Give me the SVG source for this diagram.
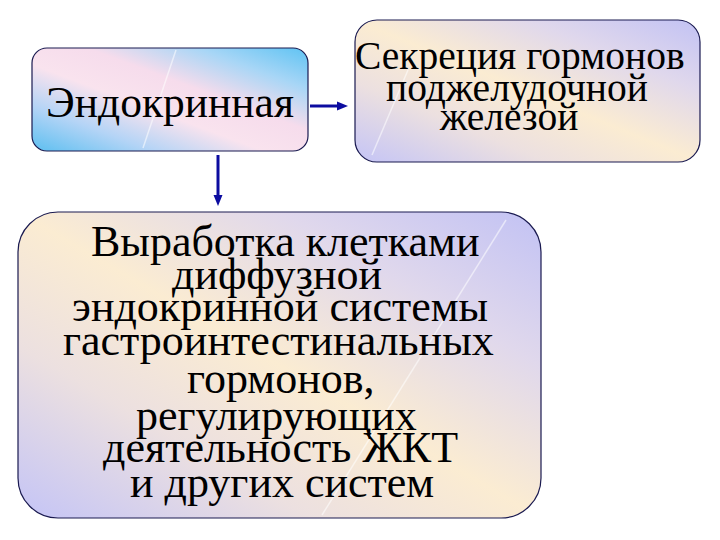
<svg xmlns="http://www.w3.org/2000/svg" width="720" height="540" viewBox="0 0 720 540">
  <defs>
    <linearGradient id="gBlue" x1="1" y1="0" x2="0" y2="1">
      <stop offset="0" stop-color="#5ec3f3"/>
      <stop offset="0.2" stop-color="#a8d6f6"/>
      <stop offset="0.4" stop-color="#f6dcec"/>
      <stop offset="0.58" stop-color="#f9e3ee"/>
      <stop offset="0.78" stop-color="#b4d4f6"/>
      <stop offset="1" stop-color="#5cbff0"/>
    </linearGradient>
    <linearGradient id="gCream" x1="1" y1="0" x2="0" y2="1">
      <stop offset="0" stop-color="#c2c2f4"/>
      <stop offset="0.25" stop-color="#e0d8ec"/>
      <stop offset="0.5" stop-color="#fbecd2"/>
      <stop offset="0.72" stop-color="#ece0e0"/>
      <stop offset="1" stop-color="#c4c4f6"/>
    </linearGradient>
    <marker id="head" markerUnits="userSpaceOnUse" markerWidth="11" markerHeight="10" refX="1" refY="5" orient="auto">
      <path d="M0,0.5 L11,5 L0,9.5 z" fill="#0c0ca0"/>
    </marker>
    <style>
      .box { stroke: #1a1a50; stroke-width: 1.2; }
      .streak { stroke: #ffffff; stroke-width: 1.5; stroke-opacity: 0.55; fill: none; }
      .conn { stroke: #0c0ca0; stroke-width: 3; fill: none; marker-end: url(#head); }
    </style>
  </defs>
  <rect x="0" y="0" width="720" height="540" fill="#ffffff"/>

  <g id="node-endocrine">
    <rect class="box" x="32" y="48" width="276" height="103" rx="15" ry="15" fill="url(#gBlue)"/>
    <line class="streak" x1="176" y1="50" x2="143" y2="148"/>
    <text x="46" y="117" font-family="Liberation Serif, Tinos, Times New Roman, serif" font-size="43.5" fill="#000000">Эндокринная</text>
  </g>

  <g id="node-secretion">
    <rect class="box" x="355" y="20" width="345" height="142" rx="22" ry="22" fill="url(#gCream)"/>
    <line class="streak" x1="408" y1="70" x2="372" y2="155"/>
    <text x="355" y="69" font-family="Liberation Serif, Tinos, Times New Roman, serif" font-size="39.5" fill="#000000">Секреция гормонов</text>
    <text x="386" y="101" font-family="Liberation Serif, Tinos, Times New Roman, serif" font-size="39.5" fill="#000000">поджелудочной</text>
    <text x="440" y="130" font-family="Liberation Serif, Tinos, Times New Roman, serif" font-size="39.5" fill="#000000">железой</text>
  </g>

  <g id="node-production">
    <rect class="box" x="18" y="212" width="523" height="306" rx="40" ry="40" fill="url(#gCream)"/>
    <line class="streak" x1="506" y1="220" x2="322" y2="515"/>
    <text x="91" y="256" font-family="Liberation Serif, Tinos, Times New Roman, serif" font-size="44" fill="#000000">Выработка клетками</text>
    <text x="172" y="289" font-family="Liberation Serif, Tinos, Times New Roman, serif" font-size="44" fill="#000000">диффузной</text>
    <text x="72" y="321" font-family="Liberation Serif, Tinos, Times New Roman, serif" font-size="44" fill="#000000">эндокринной системы</text>
    <text x="63" y="355" font-family="Liberation Serif, Tinos, Times New Roman, serif" font-size="44" fill="#000000">гастроинтестинальных</text>
    <text x="187" y="393" font-family="Liberation Serif, Tinos, Times New Roman, serif" font-size="44" fill="#000000">гормонов,</text>
    <text x="136" y="430" font-family="Liberation Serif, Tinos, Times New Roman, serif" font-size="44" fill="#000000">регулирующих</text>
    <text x="103" y="462" font-family="Liberation Serif, Tinos, Times New Roman, serif" font-size="44" fill="#000000">деятельность ЖКТ</text>
    <text x="130" y="497" font-family="Liberation Serif, Tinos, Times New Roman, serif" font-size="44" fill="#000000">и других систем</text>
  </g>

  <g id="connectors">
    <line class="conn" x1="310" y1="106" x2="338" y2="106"/>
    <line class="conn" x1="218" y1="155" x2="218" y2="196"/>
  </g>
</svg>
